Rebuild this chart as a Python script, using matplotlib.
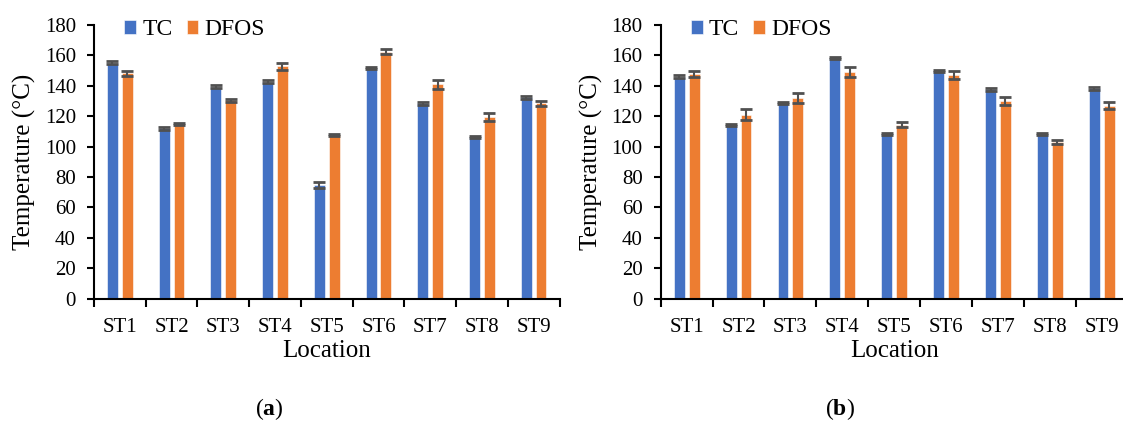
import matplotlib
matplotlib.use("Agg")
import matplotlib.pyplot as plt
import numpy as np

plt.rcParams['font.family'] = ['Liberation Serif', 'DejaVu Serif']
plt.rcParams['mathtext.fontset'] = 'custom'
plt.rcParams['mathtext.rm'] = 'Liberation Serif'
plt.rcParams['mathtext.bf'] = 'Liberation Serif:bold'

locations = ['ST1', 'ST2', 'ST3', 'ST4', 'ST5', 'ST6', 'ST7', 'ST8', 'ST9']

# Panel (a)
tc_a = [155.3, 112.0, 139.4, 142.7, 74.8, 151.6, 128.4, 106.4, 132.4]
tc_a_err = [0.8, 0.8, 0.8, 0.8, 2.0, 0.8, 0.8, 0.8, 0.8]
dfos_a = [148.2, 115.0, 130.4, 152.7, 107.7, 162.3, 141.0, 119.3, 128.4]
dfos_a_err = [1.8, 0.8, 0.8, 2.5, 0.8, 1.6, 2.8, 2.5, 1.8]

# Panel (b)
tc_b = [146.0, 114.3, 128.8, 158.4, 108.3, 149.8, 137.6, 108.3, 138.3]
tc_b_err = [0.8, 0.8, 0.8, 0.8, 0.8, 0.8, 0.8, 0.8, 0.8]
dfos_b = [148.0, 121.0, 132.0, 149.0, 114.5, 147.0, 130.0, 103.0, 127.0]
dfos_b_err = [2.0, 3.7, 3.2, 3.1, 1.6, 2.6, 2.9, 1.0, 2.3]

BLUE = '#4472C4'
ORANGE = '#ED7D31'
ERR = '#505050'

fig = plt.figure(figsize=(11.23, 4.23), dpi=100)
W, H = 1123.0, 423.0
ax_a = fig.add_axes([94 / W, 1 - 298.5 / H, 465.5 / W, 273.5 / H])
ax_b = fig.add_axes([660.7 / W, 1 - 298.5 / H, 467 / W, 273.5 / H])

width = 0.21
off = 0.143

def draw(ax, tc, tce, df, dfe):
    x = np.arange(len(locations))
    ek = dict(ecolor=ERR, elinewidth=1.5, capsize=4.5, capthick=2.0)
    ax.bar(x - off, tc, width, yerr=tce, color=BLUE, edgecolor='white',
           linewidth=0.4, error_kw=ek, label='TC')
    ax.bar(x + off, df, width, yerr=dfe, color=ORANGE, edgecolor='white',
           linewidth=0.4, error_kw=ek, label='DFOS')
    ax.set_xlim(-0.5, len(locations) - 0.5)
    ax.set_ylim(0, 180)
    ax.set_yticks(np.arange(0, 181, 20))
    ax.set_xticks(np.arange(-0.5, len(locations), 1.0))
    ax.set_xticklabels([])
    ax.set_xticks(x, minor=True)
    ax.set_xticklabels(locations, minor=True)
    ax.tick_params(axis='x', which='major', direction='out', length=6, width=1.5)
    ax.tick_params(axis='x', which='minor', length=0, pad=14, labelsize=15)
    ax.tick_params(axis='y', direction='out', length=5, width=1.5, pad=8, labelsize=15)
    for s in ['top', 'right']:
        ax.spines[s].set_visible(False)
    for s in ['left', 'bottom']:
        ax.spines[s].set_linewidth(1.5)
    ax.set_xlabel('Location', fontsize=18, labelpad=2)
    ax.legend(loc='upper left', bbox_to_anchor=(0.045, 1.055), ncol=2, frameon=False,
              fontsize=17, handlelength=0.5, handleheight=0.55, handletextpad=0.25,
              columnspacing=0.6, borderaxespad=0)

draw(ax_a, tc_a, tc_a_err, dfos_a, dfos_a_err)
draw(ax_b, tc_b, tc_b_err, dfos_b, dfos_b_err)

fig.text(24 / W, 1 - 162 / H, 'Temperature (°C)', rotation=90, ha='center', va='center', fontsize=18)
fig.text(591 / W, 1 - 162 / H, 'Temperature (°C)', rotation=90, ha='center', va='center', fontsize=18)

fig.text(269 / W, 1 - 409 / H, r'($\mathbf{a}$)', ha='center', va='center', fontsize=17)
fig.text(840 / W, 1 - 409 / H, r'($\mathbf{b}$)', ha='center', va='center', fontsize=17)

fig.savefig('out.png', dpi=100)
